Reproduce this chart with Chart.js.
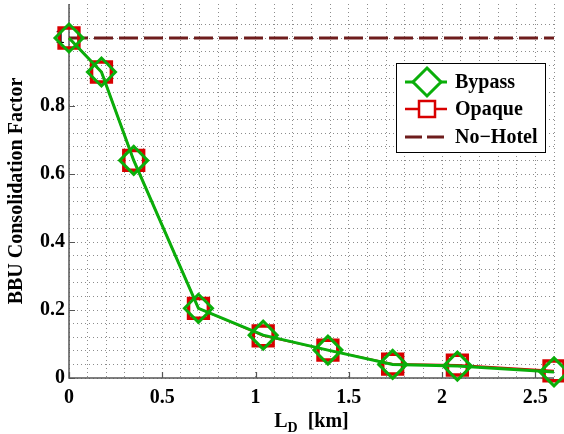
<!DOCTYPE html>
<html>
<head>
<meta charset="utf-8">
<script src="https://cdn.jsdelivr.net/npm/chart.js@4"></script>
<style>
  html, body { margin: 0; padding: 0; background: #ffffff; }
  #wrap { width: 564px; height: 434px; }
</style>
</head>
<body>
<div id="wrap"><canvas id="c" width="564" height="434"></canvas></div>
<script>
// ---- data ----
const distanceKm   = [0, 0.174, 0.347, 0.694, 1.041, 1.388, 1.735, 2.082, 2.6];
const bypassValues = [1.0, 0.9, 0.64, 0.205, 0.126, 0.082, 0.040, 0.035, 0.018];
const opaqueValues = [1.0, 0.9, 0.64, 0.205, 0.124, 0.082, 0.041, 0.038, 0.021];
const noHotelX     = [0, 2.6];
const noHotelY     = [1, 1];
const xTickLabels  = ['0', '0.5', '1', '1.5', '2', '2.5'];
const yTickLabels  = ['0', '0.2', '0.4', '0.6', '0.8', '1'];
const seriesNames  = ['Bypass', 'Opaque', 'No\u2212Hotel'];

const GREEN = '#0aae0a';
const RED = '#d80000';
const MAROON = '#6e1c1c';
const FONT = "'Liberation Serif', 'Times New Roman', serif";

const toPoints = (xs, ys) => xs.map((x, i) => ({ x: x, y: ys[i] }));

const xMajor = xTickLabels.map(Number);
const yMajor = yTickLabels.map(Number);

function isMult(v, step) {
  const q = v / step;
  return Math.abs(q - Math.round(q)) < 1e-6;
}

const axesPlugin = {
  id: 'axesPlugin',
  beforeDatasetsDraw(chart) {
    const ctx = chart.ctx;
    const a = chart.chartArea;
    const xs = chart.scales.x, ys = chart.scales.y;
    ctx.save();
    ctx.strokeStyle = '#555555';
    ctx.lineWidth = 1.5;
    ctx.setLineDash([]);
    ctx.beginPath();
    ctx.moveTo(a.left, a.top);
    ctx.lineTo(a.left, a.bottom);
    ctx.lineTo(a.right, a.bottom);
    ctx.stroke();
    ctx.lineWidth = 1.2;
    ctx.beginPath();
    xMajor.forEach(v => {
      const px = Math.round(xs.getPixelForValue(v)) + 0.5;
      ctx.moveTo(px, a.bottom);
      ctx.lineTo(px, a.bottom - 6);
    });
    yMajor.forEach(v => {
      const py = Math.round(ys.getPixelForValue(v)) + 0.5;
      ctx.moveTo(a.left, py);
      ctx.lineTo(a.left + 6, py);
    });
    ctx.stroke();
    ctx.restore();
  },
  afterDraw(chart) {
    const ctx = chart.ctx;
    const a = chart.chartArea;
    ctx.save();
    // x-axis title with subscript
    ctx.fillStyle = '#000';
    ctx.textBaseline = 'alphabetic';
    const cx = (a.left + a.right) / 2;
    const baseY = a.bottom + 49;
    ctx.font = 'bold 20px ' + FONT;
    const wL = ctx.measureText('L').width;
    const wRest = ctx.measureText('  [km]').width;
    ctx.font = 'bold 14px ' + FONT;
    const wD = ctx.measureText('D').width;
    let x0 = cx - (wL + wD + wRest) / 2;
    ctx.font = 'bold 20px ' + FONT;
    ctx.fillText('L', x0, baseY);
    ctx.font = 'bold 14px ' + FONT;
    ctx.fillText('D', x0 + wL, baseY + 5);
    ctx.font = 'bold 20px ' + FONT;
    ctx.fillText('  [km]', x0 + wL + wD, baseY);

    // legend box
    const bx = a.right - 158, by = a.top + 59, bw = 149, bh = 89;
    ctx.fillStyle = '#ffffff';
    ctx.fillRect(bx, by, bw, bh);
    ctx.strokeStyle = '#000000';
    ctx.lineWidth = 1;
    ctx.strokeRect(Math.round(bx) + 0.5, Math.round(by) + 0.5, bw, bh);
    const rows = [by + 19, by + 46, by + 74];
    const lx1 = bx + 9, lx2 = bx + 51, mx = bx + 31;
    // Bypass
    ctx.strokeStyle = GREEN; ctx.lineWidth = 3;
    ctx.beginPath(); ctx.moveTo(lx1, rows[0]); ctx.lineTo(mx - 14, rows[0]);
    ctx.moveTo(mx + 14, rows[0]); ctx.lineTo(lx2, rows[0]); ctx.stroke();
    ctx.beginPath();
    ctx.moveTo(mx, rows[0] - 14); ctx.lineTo(mx + 14, rows[0]);
    ctx.lineTo(mx, rows[0] + 14); ctx.lineTo(mx - 14, rows[0]); ctx.closePath();
    ctx.stroke();
    // Opaque
    ctx.strokeStyle = RED; ctx.lineWidth = 2.5;
    ctx.beginPath(); ctx.moveTo(lx1, rows[1]); ctx.lineTo(mx - 8, rows[1]);
    ctx.moveTo(mx + 8, rows[1]); ctx.lineTo(lx2, rows[1]); ctx.stroke();
    ctx.strokeRect(mx - 8, rows[1] - 8, 16, 16);
    // No-Hotel
    ctx.strokeStyle = MAROON; ctx.lineWidth = 3;
    ctx.setLineDash([17, 5]);
    ctx.beginPath(); ctx.moveTo(lx1, rows[2]); ctx.lineTo(lx2, rows[2]); ctx.stroke();
    ctx.setLineDash([]);
    // texts
    ctx.fillStyle = '#000';
    ctx.font = 'bold 20px ' + FONT;
    ctx.textBaseline = 'middle';
    seriesNames.forEach((n, i) => ctx.fillText(n, bx + 59, rows[i] + 1));
    ctx.restore();
  }
};

new Chart(document.getElementById('c'), {
  type: 'line',
  data: {
    datasets: [
      {
        label: seriesNames[0],
        data: toPoints(distanceKm, bypassValues),
        borderColor: GREEN,
        borderWidth: 3,
        pointStyle: 'rectRot',
        pointRadius: 14,
        pointHoverRadius: 14,
        pointBorderWidth: 3,
        pointBorderColor: GREEN,
        pointBackgroundColor: 'rgba(0,0,0,0)',
        tension: 0,
        clip: false,
        order: 0
      },
      {
        label: seriesNames[1],
        data: toPoints(distanceKm, opaqueValues),
        borderColor: RED,
        borderWidth: 2,
        pointStyle: 'rect',
        pointRadius: 14,
        pointHoverRadius: 14,
        pointBorderWidth: 3.5,
        pointBorderColor: RED,
        pointBackgroundColor: 'rgba(0,0,0,0)',
        tension: 0,
        clip: false,
        order: 1
      },
      {
        label: seriesNames[2],
        data: toPoints(noHotelX, noHotelY),
        borderColor: MAROON,
        borderWidth: 3,
        borderDash: [19, 6],
        pointRadius: 0,
        pointHoverRadius: 0,
        tension: 0,
        order: 2
      }
    ]
  },
  plugins: [axesPlugin],
  options: {
    responsive: false,
    animation: false,
    events: [],
    layout: { autoPadding: false, padding: { left: 0, right: 10, top: 4, bottom: 0 } },
    plugins: {
      legend: { display: false },
      tooltip: { enabled: false },
      title: { display: false }
    },
    scales: {
      x: {
        type: 'linear',
        min: 0,
        max: 2.6,
        afterFit: s => { s.height = 56; s.paddingLeft = 0; s.paddingRight = 0; s.paddingTop = 0; s.paddingBottom = 0; },
        border: { display: false, dash: [1, 3] },
        grid: {
          drawTicks: false,
          lineWidth: 1,
          color: ctx => (ctx.tick && isMult(ctx.tick.value, 0.1)) ? '#8c8c8c' : 'rgba(0,0,0,0)'
        },
        ticks: {
          stepSize: 0.1,
          autoSkip: false,
          maxRotation: 0,
          padding: 8,
          color: '#000',
          font: { family: FONT, size: 20, weight: 'bold' },
          callback: v => {
            const r = Math.round(v * 100) / 100;
            return isMult(r, 0.5) ? String(r) : '';
          }
        },
        title: { display: false }
      },
      y: {
        type: 'linear',
        min: 0,
        max: 1.1,
        afterFit: s => { s.width = 69; s.paddingLeft = 0; s.paddingRight = 0; s.paddingTop = 0; s.paddingBottom = 0; },
        border: { display: false, dash: [1, 3] },
        grid: {
          drawTicks: false,
          lineWidth: 1,
          color: ctx => (ctx.tick && isMult(ctx.tick.value, 0.04)) ? '#8c8c8c' : 'rgba(0,0,0,0)'
        },
        ticks: {
          stepSize: 0.04,
          autoSkip: false,
          padding: 4,
          color: '#000',
          font: { family: FONT, size: 20, weight: 'bold' },
          callback: v => {
            const r = Math.round(v * 100) / 100;
            return (isMult(r, 0.2) && r <= 1) ? String(r) : '';
          }
        },
        title: {
          display: true,
          text: 'BBU Consolidation Factor',
          color: '#000',
          padding: { top: 5, bottom: 0 },
          font: { family: FONT, size: 20, weight: 'bold' }
        }
      }
    }
  }
});
</script>
</body>
</html>
